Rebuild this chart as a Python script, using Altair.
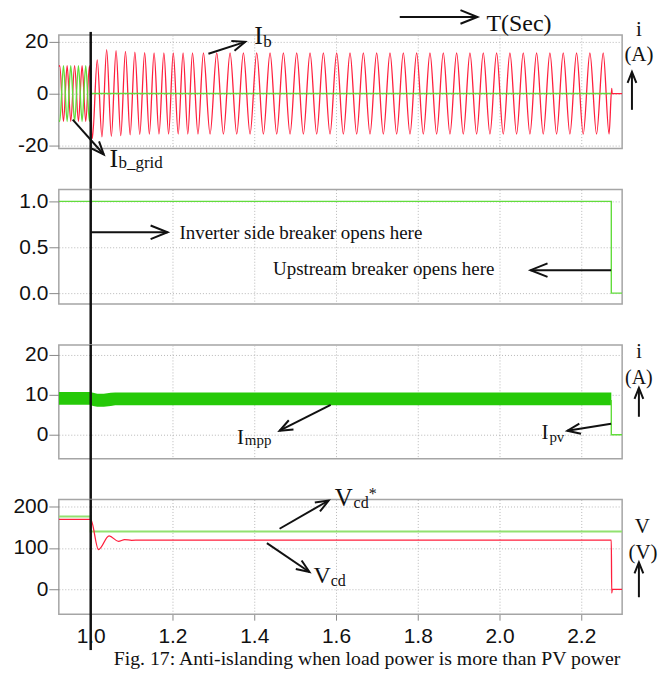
import math
import altair as alt
import pandas as pd

# ---------------- shared time axis ----------------
T_MIN, T_MAX = 0.922, 2.3
PLOT_W = 565
GAP = 41
X_TICKS = [1.0, 1.2, 1.4, 1.6, 1.8, 2.0, 2.2]

RED = "#ff1f3d"
GREEN = "#62dc3c"
GREEN_BAND = "#26c908"
GREEN_REF = "#92e270"
INK = "#111111"
SERIF = "Liberation Serif"
SANS = "Liberation Sans"

# ---------------- panel 1: load current I_b and grid current I_b_grid (A) ----------------
ib_t = [0.9220, 0.9243, 0.9334, 0.9423, 0.9512, 0.9606, 0.9700, 0.9789, 0.9878, 0.9969,
        1.0040, 1.0160, 1.0275, 1.0390, 1.0505, 1.0620, 1.0735, 1.0850, 1.0965, 1.1080,
        1.1200, 1.1320, 1.1435, 1.1550, 1.1670, 1.1790, 1.1905, 1.2020, 1.2140, 1.2260,
        1.2375, 1.2490, 1.2624, 1.2757, 1.2920, 1.3083, 1.3246, 1.3409, 1.3572, 1.3735,
        1.3898, 1.4061, 1.4224, 1.4387, 1.4550, 1.4713, 1.4876, 1.5039, 1.5202, 1.5365,
        1.5528, 1.5691, 1.5854, 1.6017, 1.6180, 1.6343, 1.6506, 1.6669, 1.6832, 1.6995,
        1.7158, 1.7321, 1.7484, 1.7647, 1.7810, 1.7973, 1.8136, 1.8299, 1.8462, 1.8625,
        1.8788, 1.8951, 1.9114, 1.9277, 1.9440, 1.9603, 1.9766, 1.9929, 2.0092, 2.0255,
        2.0418, 2.0581, 2.0744, 2.0907, 2.1070, 2.1233, 2.1396, 2.1559, 2.1722, 2.1885,
        2.2048, 2.2211, 2.2374, 2.2537, 2.2680, 2.2745, 2.2755, 2.3000]
ib_v = [10.4, 10.8, -10.8, 10.8, -10.8, 10.8, -10.8, 10.8, -10.8, 10.8,
        -17.4, 13.0, -16.8, 17.0, -16.6, 16.6, -16.3, 16.3, -16.0, 16.0,
        -15.8, 15.8, -15.7, 15.7, -15.7, 15.7, -15.7, 15.7, -15.7, 15.7,
        -15.7, 15.7, -15.7, 15.7, -15.7, 15.7, -15.7, 15.7, -15.7, 15.7,
        -15.7, 15.7, -15.7, 15.7, -15.7, 15.7, -15.7, 15.7, -15.7, 15.7,
        -15.7, 15.7, -15.7, 15.7, -15.7, 15.7, -15.7, 15.7, -15.7, 15.7,
        -15.7, 15.7, -15.7, 15.7, -15.7, 15.7, -15.7, 15.7, -15.7, 15.7,
        -15.7, 15.7, -15.7, 15.7, -15.7, 15.7, -15.7, 15.7, -15.7, 15.7,
        -15.7, 15.7, -15.7, 15.7, -15.7, 15.7, -15.7, 15.7, -15.7, 15.7,
        -15.7, 15.7, -15.7, 15.7, -15.7, 2.0, 0.0, 0.0]
ibg_t = [0.9220, 0.9243, 0.9334, 0.9423, 0.9512, 0.9606, 0.9700, 0.9789, 0.9878, 0.9969,
         1.0015, 2.2730]
ibg_v = [-10.4, -10.8, 10.8, -10.8, 10.8, -10.8, 10.8, -10.8, 10.8, -10.8, 0.0, 0.0]

# ---------------- panel 2: breaker status ----------------
brk_t = [0.922, 2.2735, 2.3]
brk_v = [1.0, 0.0, 0.0]

# ---------------- panel 3: PV current (ripple band) ----------------
ipv_t = [0.922, 0.998, 1.006, 1.016, 1.032, 1.049, 1.060, 2.2735]
ipv_lo = [7.5, 7.5, 7.2, 7.0, 7.0, 7.2, 7.4, 7.4]
ipv_hi = [10.7, 10.7, 10.5, 10.3, 10.3, 10.5, 10.6, 10.6]
ipv_tail_t = [2.272, 2.2735, 2.3]
ipv_tail_v = [8.5, 0.0, 0.0]

# ---------------- panel 4: d-axis voltage and its reference ----------------
vref_t = [0.922, 1.0, 2.3]
vref_v = [176, 140, 140]
vcd_t = [0.922, 1.000, 1.019, 1.045, 1.068, 1.083, 1.100, 1.120, 2.2735, 2.2745, 2.2760, 2.300]
vcd_v = [169, 169, 96, 129, 116, 120, 118.5, 119, 119, -9, 0, 0]

PANELS = [
    dict(ydom=[-21.3, 22.7], h=114, yticks=[-20, 0, 20], fmt="d"),
    dict(ydom=[-0.12, 1.13], h=115, yticks=[0.0, 0.5, 1.0], fmt=".1f"),
    dict(ydom=[-6.0, 22.5], h=114, yticks=[0, 10, 20], fmt="d"),
    dict(ydom=[-60, 217], h=115, yticks=[0, 100, 200], fmt="d"),
]

CAPTION = "Fig. 17: Anti-islanding when load power is more than PV power"

# annotation labels: (text, t, y, font size, align)
TEXTS = [
    [("T(Sec)", 1.968, 24.2, 24, "left"),
     ("i", 2.341, 22.3, 21, "center"),
     ("(A)", 2.341, 12.7, 21, "center"),
     ("I", 1.400, 19.2, 26, "left"),
     ("b", 1.422, 18.1, 17, "left"),
     ("I", 1.046, -28.3, 26, "left"),
     ("b_grid", 1.068, -29.0, 17, "left")],
    [("Inverter side breaker opens here", 1.217, 0.587, 19, "left"),
     ("Upstream breaker opens here", 1.446, 0.195, 19, "left")],
    [("I", 1.358, -2.25, 21, "left"),
     ("mpp", 1.377, -2.6, 15, "left"),
     ("I", 2.103, -1.0, 21, "left"),
     ("pv", 2.122, -1.75, 15, "left"),
     ("i", 2.341, 19.25, 20, "center"),
     ("(A)", 2.341, 12.75, 20, "center")],
    [("V", 1.597, 202.5, 25, "left"),
     ("cd", 1.643, 195.3, 16, "left"),
     ("*", 1.680, 219.4, 16, "left"),
     ("V", 1.545, 14.6, 24, "left"),
     ("cd", 1.587, 7.4, 16, "left"),
     ("V", 2.349, 135, 21, "center"),
     ("(V)", 2.351, 72.4, 21, "center"),
     (CAPTION, 1.676, -183, 19.8, "center")],
]

# arrows: (t0, y0, t1, y1, head length px); head sits at (t1, y1)
ARROWS = [
    [(1.756, 29.65, 1.946, 29.65, 17),
     (2.324, -6.3, 2.324, 8.4, 11),
     (1.288, 15.4, 1.378, 20.0, 13),
     (0.956, -10.1, 1.032, -23.6, 13)],
    [(1.0, 0.663, 1.188, 0.663, 17),
     (2.273, 0.25, 2.076, 0.25, 17)],
    [(1.587, 7.5, 1.462, 1.0, 13),
     (2.273, 2.75, 2.166, 1.0, 13),
     (2.341, 4.5, 2.341, 11.75, 11)],
    [(1.462, 146.4, 1.582, 214.6, 13),
     (1.431, 111.7, 1.535, 41.8, 13),
     (2.341, -19.1, 2.341, 65.2, 11)],
]

HEAD = "M-1,-0.4L0,0L-1,0.4"


def head_angle(t0, y0, t1, y1, ydom, h):
    sx = PLOT_W / (T_MAX - T_MIN)
    sy = h / (ydom[1] - ydom[0])
    dx = (t1 - t0) * sx
    dy = -(y1 - y0) * sy
    return math.degrees(math.atan2(dy, dx)) % 360


def build_panel(i, series):
    p = PANELS[i]
    bottom = i == len(PANELS) - 1
    xs = alt.Scale(domain=[T_MIN, T_MAX], nice=False, zero=False)
    ys = alt.Scale(domain=p["ydom"], nice=False, zero=False)
    if bottom:
        xaxis = alt.Axis(values=X_TICKS, format=".1f", title=None, domain=False,
                         tickSize=6, labelPadding=5, grid=True)
    else:
        xaxis = alt.Axis(values=X_TICKS, title=None, domain=False, labels=False,
                         ticks=False, grid=True)
    yaxis = alt.Axis(values=p["yticks"], format=p["fmt"], title=None, domain=False,
                     tickSize=10, labelPadding=1, grid=True,
                     labelExpr="replace(datum.label, '\u2212', '-')")

    def X(f):
        return alt.X(f, type="quantitative", scale=xs, axis=xaxis)

    def Y(f):
        return alt.Y(f, type="quantitative", scale=ys, axis=yaxis)

    layers = [mk(X, Y) for mk in series]

    # breaker instant marker at t = 1.0 s, running through the gaps between panels
    top = -3 if i == 0 else 0
    bot = p["h"] + (36 if bottom else GAP)
    layers.append(
        alt.Chart(pd.DataFrame({"t": [1.0]}))
        .mark_rule(color=INK, strokeWidth=2.5)
        .encode(x=X("t"), y=alt.value(top), y2=alt.value(bot))
    )

    arr = pd.DataFrame(ARROWS[i], columns=["t0", "y0", "t1", "y1", "hl"])
    arr["ang"] = [head_angle(r.t0, r.y0, r.t1, r.y1, p["ydom"], p["h"]) for r in arr.itertuples()]
    arr["hs"] = (2 * arr["hl"]) ** 2
    layers.append(
        alt.Chart(arr).mark_rule(color=INK, strokeWidth=2)
        .encode(x=X("t0"), x2=alt.X2("t1"), y=Y("y0"), y2=alt.Y2("y1"))
    )
    layers.append(
        alt.Chart(arr).mark_point(shape=HEAD, filled=False, color=INK, strokeWidth=2,
                                  opacity=1, strokeJoin="miter")
        .encode(x=X("t1"), y=Y("y1"), angle=alt.Angle("ang:Q", scale=None),
                size=alt.Size("hs:Q", scale=None))
    )

    txt = pd.DataFrame(TEXTS[i], columns=["s", "t", "y", "fs", "al"])
    for al in ["left", "center"]:
        sub = txt[txt["al"] == al]
        if len(sub):
            layers.append(
                alt.Chart(sub).mark_text(font=SERIF, align=al, baseline="alphabetic", color=INK)
                .encode(x=X("t"), y=Y("y"), text="s:N", size=alt.Size("fs:Q", scale=None))
            )

    if i == 0:
        # transparent frame that fixes the figure extent around all panels
        layers.append(
            alt.Chart(pd.DataFrame({"k": [0]})).mark_rect(opacity=0)
            .encode(x=alt.value(-58), x2=alt.value(612), y=alt.value(-33), y2=alt.value(640))
        )

    return alt.layer(*layers).properties(width=PLOT_W, height=p["h"])


p1 = build_panel(0, [
    lambda X, Y: alt.Chart(pd.DataFrame({"t": ib_t, "v": ib_v}))
    .mark_line(color=RED, strokeWidth=1.3, interpolate="monotone", clip=True)
    .encode(x=X("t"), y=Y("v")),
    lambda X, Y: alt.Chart(pd.DataFrame({"t": ibg_t, "v": ibg_v}))
    .mark_line(color=GREEN, strokeWidth=1.4, interpolate="monotone", clip=True)
    .encode(x=X("t"), y=Y("v")),
])

p2 = build_panel(1, [
    lambda X, Y: alt.Chart(pd.DataFrame({"t": brk_t, "v": brk_v}))
    .mark_line(color=GREEN, strokeWidth=1.4, interpolate="step-after", clip=True)
    .encode(x=X("t"), y=Y("v")),
])

p3 = build_panel(2, [
    lambda X, Y: alt.Chart(pd.DataFrame({"t": ipv_t, "lo": ipv_lo, "hi": ipv_hi}))
    .mark_area(color=GREEN_BAND, opacity=1, clip=True)
    .encode(x=X("t"), y=Y("lo"), y2=alt.Y2("hi")),
    lambda X, Y: alt.Chart(pd.DataFrame({"t": ipv_tail_t, "v": ipv_tail_v}))
    .mark_line(color=GREEN, strokeWidth=1.4, interpolate="step-after", clip=True)
    .encode(x=X("t"), y=Y("v")),
])

p4 = build_panel(3, [
    lambda X, Y: alt.Chart(pd.DataFrame({"t": vref_t, "v": vref_v}))
    .mark_line(color=GREEN_REF, strokeWidth=2, interpolate="step-after", clip=True)
    .encode(x=X("t"), y=Y("v")),
    lambda X, Y: alt.Chart(pd.DataFrame({"t": vcd_t, "v": vcd_v}))
    .mark_line(color=RED, strokeWidth=1.3, interpolate="monotone", clip=True)
    .encode(x=X("t"), y=Y("v")),
])

chart = (
    alt.vconcat(p1, p2, p3, p4, spacing=GAP, bounds="flush")
    .properties(padding=0, background="white")
    .configure_view(stroke="#a5a5a5", strokeWidth=1.5)
    .configure_axis(labelFont=SANS, labelFontSize=21, labelColor=INK,
                    tickColor="#888888", tickWidth=1,
                    gridColor="#b8b8b8", gridDash=[1, 2], gridWidth=1)
)

chart.save("out.html", embed_options={"renderer": "svg", "actions": False})
